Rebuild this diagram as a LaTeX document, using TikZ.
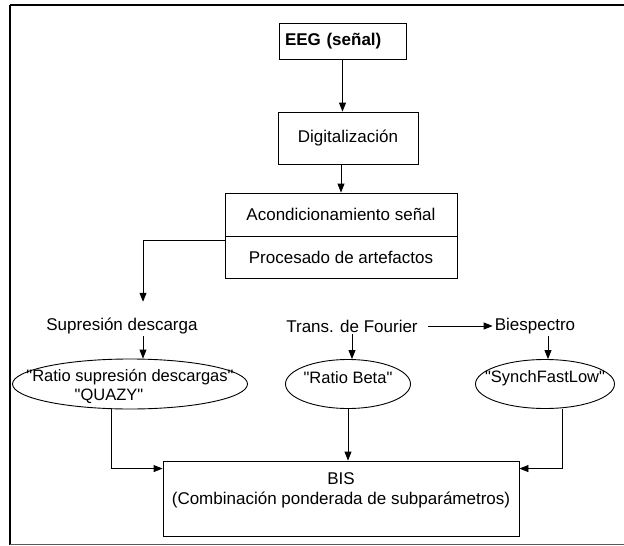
\documentclass[tikz,border=0pt]{standalone}
\usepackage{fontspec}
\setmainfont{Liberation Sans}
\usetikzlibrary{arrows.meta,shapes.geometric,calc}
\newcommand{\qq}{\textquotedbl}
\begin{document}
\begin{tikzpicture}[x=1pt,y=-1pt,
  every node/.style={font=\fontsize{17}{20}\selectfont},
  box/.style={draw, line width=0.9pt, rectangle, inner sep=0pt, align=center},
  oval/.style={draw, line width=0.9pt, ellipse, inner sep=0pt},
  lbl/.style={inner sep=2pt, align=center},
  ovaltext/.style={inner sep=2pt, align=center, font=\fontsize{16.5}{19}\selectfont},
  arr/.style={line width=0.9pt, -{Triangle[length=9pt,width=7pt]}}]
\useasboundingbox (0,0) rectangle (624,546);
\fill[white] (0,0) rectangle (624,546);
% frame
\draw[line width=2pt] (10,5) -- (10,545);
\draw[line width=1.5pt] (10,5) -- (624,5);
\draw[line width=0.8pt, black!65] (10,544) -- (624,544);
% boxes
\node[box, minimum width=127pt, minimum height=36pt, text width=115pt, align=left, font=\fontsize{17}{20}\selectfont\bfseries] (eeg) at (342.5,41) {EEG (señal)};
\node[box, minimum width=140pt, minimum height=52pt] (dig) at (348,138) {Digitalización};
\node[box, minimum width=232pt, minimum height=43pt] (ac1) at (341,214.5) {Acondicionamiento señal};
\node[box, minimum width=232pt, minimum height=42pt] (ac2) at (341,257) {Procesado de artefactos};
% labels
\node[lbl] (sup) at (122,326) {Supresión descarga};
\node[lbl] (fou) at (352,326) {Trans. de Fourier};
\node[lbl] (bie) at (535,326) {Biespectro};
% ellipses
\node[oval, minimum width=235pt, minimum height=50pt] (e1) at (130,384) {};
\node[ovaltext] (e1t) at (130,386) {\qq Ratio supresión descargas\qq\\\qq QUAZY\qq\hspace*{42pt}};
\node[oval, minimum width=125pt, minimum height=49pt] (e2) at (348,384) {};
\node[ovaltext] (e2t) at (348,378) {\qq Ratio Beta\qq};
\node[oval, minimum width=139pt, minimum height=49pt] (e3) at (545,384) {};
\node[ovaltext] (e3t) at (545,378) {\qq SynchFastLow\qq};
% BIS
\node[box, minimum width=356pt, minimum height=75pt] (bis) at (341,498.5) {};
\node[lbl] (bist) at (341,490) {BIS\\(Combinación ponderada de subparámetros)};
% helper x positions
\coordinate (s1) at (143,0);
\coordinate (b1) at (548,0);
\coordinate (q1) at (111,0);
\coordinate (r1) at (562,0);
% connectors
\draw[arr] (eeg.south) -- (eeg.south |- dig.north);
\draw[arr] (dig.south -| ac1.north) -- (ac1.north);
\draw[arr, shorten >=14pt] ($(ac2.north west)+(0,5)$) -| (sup.north -| s1);
\draw[arr] (sup.south -| s1) -- (e1.north -| s1);
\draw[arr] (fou.south) -- (fou.south |- e2.north);
\draw[arr, shorten <=8pt] (fou.east) -- (bie.west);
\draw[arr] (bie.south -| b1) -- (e3.north -| b1);
\draw[arr] (e1.south -| q1) |- ($(bis.north west)+(0,8)$);
\draw[arr] (e2.south) -- (e2.south |- bis.north);
\draw[arr] (e3.south -| r1) |- ($(bis.north east)+(0,8)$);
\end{tikzpicture}
\end{document}
